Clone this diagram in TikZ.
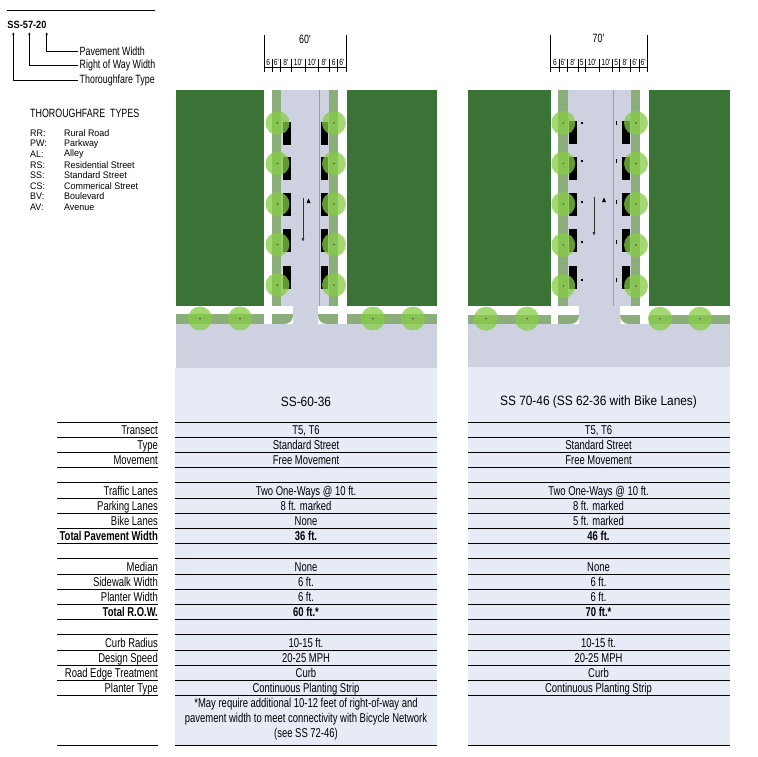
\documentclass[tikz,border=0pt]{standalone}
\usepackage{fontspec}
\setmainfont{Liberation Sans}
\newfontfamily\narrowfont[FakeStretch=0.74]{Liberation Sans}
\newfontfamily\listfont[FakeStretch=0.94]{Liberation Sans}
\newfontfamily\headfont[FakeStretch=0.88]{Liberation Sans}
\usepackage{xcolor}
\usepackage{tikz}
\usetikzlibrary{arrows.meta}
\usetikzlibrary{calc}
\usetikzlibrary{positioning}

\definecolor{block}{HTML}{3B7236}
\definecolor{planter}{HTML}{8CAE7A}
\definecolor{tree}{HTML}{86CC45}
\definecolor{road}{HTML}{CED1E0}
\definecolor{sheet}{HTML}{E7EBF5}
\definecolor{laneline}{HTML}{9A9EB0}

\tikzset{
  lbl/.style={font=\narrowfont\fontsize{12.8}{13}\selectfont, anchor=base east, inner sep=0pt},
  lblbold/.style={font=\narrowfont\bfseries\fontsize{12.8}{13}\selectfont, anchor=base east, inner sep=0pt},
  val/.style={font=\narrowfont\fontsize{12.8}{13}\selectfont, anchor=base, inner sep=0pt},
  valbold/.style={font=\narrowfont\bfseries\fontsize{12.8}{13}\selectfont, anchor=base, inner sep=0pt},
  key/.style={font=\narrowfont\fontsize{12}{12}\selectfont, anchor=west, inner sep=1.5pt},
  listtext/.style={font=\listfont\fontsize{9.5}{9.5}\selectfont, anchor=west, inner sep=0pt},
  code/.style={font=\headfont\bfseries\fontsize{10.5}{11}\selectfont, inner sep=0pt},
  title/.style={font=\headfont\fontsize{13.5}{14}\selectfont, inner sep=0pt},
  dimlbl/.style={font=\narrowfont\fontsize{9}{9}\selectfont, inner sep=0pt},
  dimtop/.style={font=\narrowfont\fontsize{12}{12}\selectfont, inner sep=0pt},
  dim/.style={line width=0.7pt},
  pointer/.style={line width=0.6pt, -{Latex[length=3pt,width=2.4pt]}},
  flow/.style={line width=0.7pt, color=black!80, -{Latex[length=4pt,width=3pt]}},
  treetop/.style={fill=tree, fill opacity=0.75},
  car/.style={fill=black},
  lane/.style={draw=laneline, line width=0.6pt},
  rowline/.style={line width=0.7pt},
  totline/.style={line width=1.3pt}
}

\begin{document}
\begin{tikzpicture}[x=1pt,y=-1pt]
    \useasboundingbox (0,0) rectangle (758,757);
    \fill[white] (0,0) rectangle (758,757);

    % legend
    \draw[line width=0.8pt] (7,10) -- (155,10);
    \node[code] (code) at (27,25) {SS-57-20};
    \coordinate (tipT) at (13.3,32);
    \coordinate (tipR) at (29.3,32);
    \coordinate (tipP) at (46.7,32);
    \node[key] (pave) at (78,51) {Pavement Width};
    \node[key] (rway) at (78,65.5) {Right of Way Width};
    \node[key] (thor) at (78,80) {Thoroughfare Type};
    \draw[pointer] (pave.west) -| (tipP);
    \draw[pointer] (rway.west) -| (tipR);
    \draw[pointer] (thor.west) -| (tipT);
    \node[key, inner sep=0pt] (types) at (30,113.5) {THOROUGHFARE\ \ TYPES};
    \foreach \i/\ab/\nm in {0/RR:/Rural Road, 1/PW:/Parkway, 2/AL:/Alley,
        3/RS:/Residential Street, 4/SS:/Standard Street, 5/CS:/Commerical Street,
        6/BV:/Boulevard, 7/AV:/Avenue}
    {
      \node[listtext] (ab\i) at (30,{133+10.6*\i}) {\ab};
      \node[listtext] (nm\i) at (64,{133+10.6*\i}) {\nm};
    }

    % sheets behind the tables
    \fill[sheet] (175,367.5) rectangle (437,745);
    \fill[sheet] (468,367) rectangle (729.5,745);

    % street 60
    \fill[road] (176,324) rectangle (437,367.5);
    \fill[block] (176,90) rectangle (264,306);
    \fill[block] (347,90) rectangle (437,306);
    \fill[planter] (272,90) rectangle (281,306);
    \fill[planter] (329,90) rectangle (338,306);
    \fill[planter] (176,314) rectangle (264,324);
    \fill[planter] (347,314) rectangle (437,324);
    \fill[road] (281,90) rectangle (329,306);
    \fill[road] (293,306) rectangle (318,324);
    \fill[planter] (272,314) rectangle (293,324);
    \fill[planter] (318,314) rectangle (338,324);
    \fill[white] (293,316) -- (293,324) -- (285,324) .. controls (289.4,324) and (293,320.4) .. (293,316);
    \fill[white] (318,316) -- (318,324) -- (326,324) .. controls (321.6,324) and (318,320.4) .. (318,316);
    \draw[lane] (319.5,90) -- (319.5,306);
    \foreach \y in {122,157.5,193,229,266} {
      \fill[car] (283,\y) rectangle (291,{\y+23});
      \fill[car] (321,\y) rectangle (328,{\y+23});
    }
    \draw[flow] (303,198) -- (303,242);
    \fill (306.5,203) -- (310.5,203) -- (308.5,198.5) -- cycle;
    \foreach \y in {123,163.5,204,244.5,285} {
      \fill[treetop] (277.5,\y) circle (12pt);
      \fill[treetop] (334,\y) circle (12pt);
      \fill[black!70] (277.5,\y) circle (0.8pt);
      \fill[black!70] (334,\y) circle (0.8pt);
    }
    \foreach \x in {200,240,373,413} {
      \fill[treetop] (\x,318.5) circle (12pt);
      \fill[black!70] (\x,318.5) circle (0.8pt);
    }

    % street 70
    \fill[road] (468,324) rectangle (730,367);
    \fill[block] (468,90) rectangle (550.7,306);
    \fill[block] (649,90) rectangle (730,306);
    \fill[planter] (558.3,90) rectangle (567.7,306);
    \fill[planter] (631,90) rectangle (640.3,306);
    \fill[planter] (468,315) rectangle (550.7,324);
    \fill[planter] (649,315) rectangle (730,324);
    \fill[road] (567.7,90) rectangle (631,306);
    \fill[road] (579,306) rectangle (620.3,324);
    \fill[planter] (558.3,315) rectangle (579,324);
    \fill[planter] (620.3,315) rectangle (640.3,324);
    \fill[white] (579,316) -- (579,324) -- (571,324) .. controls (575.4,324) and (579,320.4) .. (579,316);
    \fill[white] (620.3,316) -- (620.3,324) -- (628.3,324) .. controls (623.9,324) and (620.3,320.4) .. (620.3,316);
    \draw[lane] (613,90) -- (613,306);
    \foreach \y in {121,156.7,192.7,229,266} {
      \fill[car] (569,\y) rectangle (577.3,{\y+23});
      \fill[car] (621.7,\y) rectangle (630,{\y+23});
    }
    \foreach \y in {123,161,201.5,241.5,279.5} {
      \fill (581.3,{\y-1}) rectangle (583.3,{\y+1});
      \fill (616,{\y-2}) rectangle (617.4,{\y+2});
    }
    \draw[flow] (594,197) -- (594,236);
    \fill (602,202) -- (606,202) -- (604,197.5) -- cycle;
    \foreach \y in {123,163.5,204,245,286} {
      \fill[treetop] (563.3,\y) circle (12pt);
      \fill[treetop] (636,\y) circle (12pt);
      \fill[black!70] (563.3,\y) circle (0.8pt);
      \fill[black!70] (636,\y) circle (0.8pt);
    }
    \foreach \x in {486,527,660,700} {
      \fill[treetop] (\x,318.7) circle (12pt);
      \fill[black!70] (\x,318.7) circle (0.8pt);
    }

    % widths
    \draw[dim] (264,35) -- (264,72);
    \draw[dim] (346,35) -- (346,72);
    \draw[dim] (264,67.7) -- (346,67.7);
    \foreach \x in {272.2,280.4,291.3,305,318.7,329.6,337.8}
      \draw[dim] (\x,59) -- (\x,72);
    \node[dimtop] (wa) at (305,39.5) {60'};
    \foreach \x/\t [count=\i] in {268.1/6, 276.3/6', 285.9/8', 298.2/10', 311.9/10',
        324.2/8', 333.7/6, 341.9/6'}
      \node[dimlbl] (da\i) at (\x,62.5) {\t};

    \draw[dim] (550.7,35) -- (550.7,72);
    \draw[dim] (647.3,35) -- (647.3,72);
    \draw[dim] (550.7,67.7) -- (647.3,67.7);
    \foreach \x in {559,567.3,578.3,585.2,599,612.8,619.7,630.7,639}
      \draw[dim] (\x,59) -- (\x,72);
    \node[dimtop] (wb) at (598.5,38.5) {70'};
    \foreach \x/\t [count=\i] in {554.9/6, 563.2/6', 572.8/8', 581.8/5, 592.1/10',
        605.9/10', 616.3/5, 625.2/8', 634.9/6', 643.2/6'}
      \node[dimlbl] (db\i) at (\x,62.5) {\t};

    % titles
    \node[title] (ttlA) at (306,401.5) {SS-60-36};
    \node[title] (ttlB) at (598.5,402) {SS 70-46 (SS 62-36 with Bike Lanes)};

    % table
    \foreach \k in {0,...,18} {
      \draw[rowline] (57,{422+15.2*\k}) -- (158,{422+15.2*\k});
      \draw[rowline] (175,{422+15.2*\k}) -- (437,{422+15.2*\k});
      \draw[rowline] (468,{422+15.2*\k}) -- (729.5,{422+15.2*\k});
    }
    \draw[totline] (57,543.6) -- (158,543.6);
    \draw[totline] (57,619.6) -- (158,619.6);
    \draw[rowline] (57,745) -- (158,745);
    \draw[rowline] (175,745) -- (437,745);
    \draw[rowline] (468,745) -- (729.5,745);

    \foreach \k/\lab/\a/\b in {
        0/Transect/{T5, T6}/{T5, T6},
        1/Type/Standard Street/Standard Street,
        2/Movement/Free Movement/Free Movement,
        4/Traffic Lanes/Two One-Ways @ 10 ft./Two One-Ways @ 10 ft.,
        5/Parking Lanes/8 ft. marked/8 ft. marked,
        6/Bike Lanes/None/5 ft. marked,
        9/Median/None/None,
        10/Sidewalk Width/6 ft./6 ft.,
        11/Planter Width/6 ft./6 ft.,
        14/Curb Radius/10-15 ft./10-15 ft.,
        15/Design Speed/20-25 MPH/20-25 MPH,
        16/Road Edge Treatment/Curb/Curb,
        17/Planter Type/Continuous Planting Strip/Continuous Planting Strip}
    {
      \node[lbl] (lab\k) at (158,{422+15.2*(\k+0.5)+4.6}) {\lab};
      \node[val] (va\k) at (306,{422+15.2*(\k+0.5)+4.6}) {\a};
      \node[val] (vb\k) at (598.5,{422+15.2*(\k+0.5)+4.6}) {\b};
    }
    \node[lblbold] (lab7) at (158,540.6) {Total Pavement Width};
    \node[valbold] (va7) at (306,540.6) {36 ft.};
    \node[valbold] (vb7) at (598.5,540.6) {46 ft.};
    \node[lblbold] (lab12) at (158,616.6) {Total R.O.W.};
    \node[valbold] (va12) at (306,616.6) {60 ft.*};
    \node[valbold] (vb12) at (598.5,616.6) {70 ft.*};
    \node[font=\narrowfont\fontsize{12.8}{15}\selectfont, inner sep=0pt, align=center] (note) at (306,719)
      {*May require additional 10-12 feet of right-of-way and\\
       pavement width to meet connectivity with Bicycle Network\\
       (see SS 72-46)};
\end{tikzpicture}
\end{document}
